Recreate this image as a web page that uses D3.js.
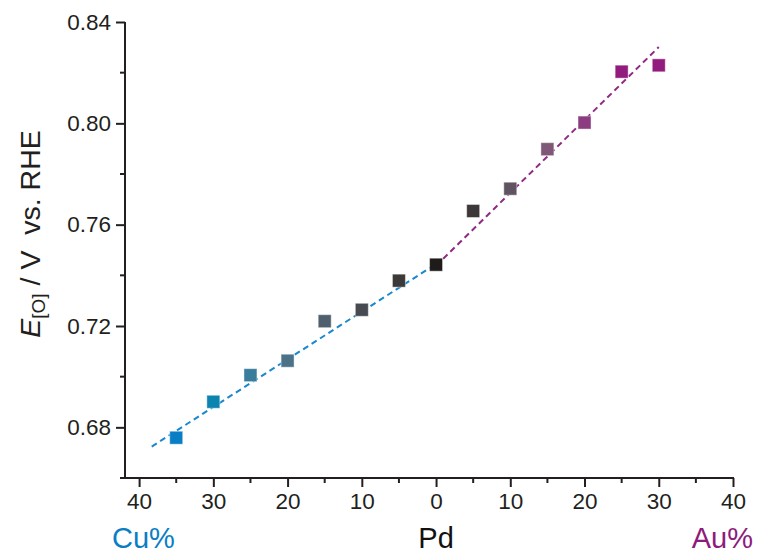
<!DOCTYPE html>
<html>
<head>
<meta charset="utf-8">
<script src="https://cdn.jsdelivr.net/npm/d3@7"></script>
<style>
  body { margin: 0; background: #fff; }
  text { font-family: "Liberation Sans", Arial, sans-serif; }
</style>
</head>
<body>
<div id="chart"></div>
<script>
// composition: negative = Cu%, positive = Au%
const compositions = [-35, -30, -25, -20, -15, -10, -5, 0, 5, 10, 15, 20, 25, 30];
const potentials = [0.6759, 0.6901, 0.7006, 0.7063, 0.7219, 0.7264, 0.7379, 0.7442,
                    0.7654, 0.7742, 0.7898, 0.8003, 0.8204, 0.8229];
const cuFit = [[-38.3, 0.6724], [0, 0.7445]];
const auFit = [[0, 0.7438], [30, 0.8301]];
const xTicks = [-40, -30, -20, -10, 0, 10, 20, 30, 40];
const yTicks = [0.68, 0.72, 0.76, 0.80, 0.84];

const pointColor = d3.scaleLinear()
    .domain([-35, -30, -25, -20, -15, -10, -5, 0, 5, 10, 15, 20, 25, 30])
    .range(["#0a7ec4", "#0c84b0", "#3a7c9c", "#4b7286", "#4f5f6e", "#474a51", "#3c3a39",
            "#1f1b1a", "#3b3837", "#615462", "#7f5877", "#8c3c80", "#911c7d", "#911c7d"]);

const width = 758, height = 554;
const margin = { top: 22, right: 25, bottom: 76, left: 125 };

const svg = d3.select("#chart")
    .append("svg")
    .attr("width", width)
    .attr("height", height);

const x = d3.scaleLinear()
    .domain([-41.9, 40])
    .range([margin.left, width - margin.right]);

const y = d3.scaleLinear()
    .domain([0.66, 0.84])
    .range([height - margin.bottom, margin.top]);

const axisColor = "#231f20";

// fit lines
const line = d3.line().x(d => x(d[0])).y(d => y(d[1]));
svg.append("path")
    .datum(cuFit)
    .attr("d", line)
    .attr("fill", "none")
    .attr("stroke", "#1a88cf")
    .attr("stroke-width", 2)
    .attr("stroke-dasharray", "6,4");
svg.append("path")
    .datum(auFit)
    .attr("d", line)
    .attr("fill", "none")
    .attr("stroke", "#8e2a82")
    .attr("stroke-width", 2)
    .attr("stroke-dasharray", "6,4");

// points
const sq = 13;
svg.selectAll("rect.pt")
    .data(compositions.map((c, i) => ({ c: c, v: potentials[i] })))
    .join("rect")
    .attr("class", "pt")
    .attr("x", d => x(d.c) - sq / 2)
    .attr("y", d => y(d.v) - sq / 2)
    .attr("width", sq)
    .attr("height", sq)
    .attr("fill", d => pointColor(d.c))
    .attr("stroke", "#ffffff")
    .attr("stroke-opacity", 0.45)
    .attr("stroke-width", 1);

// x axis
const xAxis = svg.append("g")
    .attr("transform", `translate(0, ${height - margin.bottom})`)
    .call(d3.axisBottom(x)
        .tickValues(xTicks)
        .tickSize(9)
        .tickPadding(6)
        .tickFormat(d => Math.abs(d)))
    .call(g => g.select(".domain").remove());
xAxis.append("line")
    .attr("x1", margin.left)
    .attr("x2", x(40) + 1)
    .attr("stroke", axisColor)
    .attr("stroke-width", 2);
xAxis.selectAll(".minor")
    .data(d3.range(-35, 40, 10))
    .join("line")
    .attr("x1", d => x(d))
    .attr("x2", d => x(d))
    .attr("y2", 5)
    .attr("stroke", axisColor)
    .attr("stroke-width", 2);

// y axis
const yAxis = svg.append("g")
    .attr("transform", `translate(${margin.left}, 0)`)
    .call(d3.axisLeft(y)
        .tickValues(yTicks)
        .tickSize(9)
        .tickPadding(5)
        .tickFormat(d3.format(".2f")))
    .call(g => g.select(".domain").remove());
yAxis.append("line")
    .attr("y1", y(0.84))
    .attr("y2", y(0.66) + 1)
    .attr("stroke", axisColor)
    .attr("stroke-width", 2);
yAxis.selectAll(".minor")
    .data([0.66, 0.70, 0.74, 0.78, 0.82])
    .join("line")
    .attr("y1", d => y(d))
    .attr("y2", d => y(d))
    .attr("x2", -5)
    .attr("stroke", axisColor)
    .attr("stroke-width", 2);

svg.selectAll(".tick line")
    .attr("stroke", axisColor)
    .attr("stroke-width", 2);
svg.selectAll(".tick text")
    .attr("fill", axisColor)
    .style("font-size", "22.5px");

// axis titles
const yTitle = svg.append("text")
    .attr("transform", `translate(40, 234) rotate(-90)`)
    .attr("text-anchor", "middle")
    .attr("fill", axisColor)
    .style("font-size", "28.5px");
yTitle.append("tspan").attr("font-style", "italic").text("E");
yTitle.append("tspan").attr("dy", 5).style("font-size", "19px").text("[O]");
yTitle.append("tspan").attr("dy", -5).text(" / V\u00a0 vs. RHE");

svg.append("text")
    .attr("x", 112)
    .attr("y", 548)
    .attr("fill", "#0a7ec4")
    .style("font-size", "29px")
    .text("Cu%");
svg.append("text")
    .attr("x", x(0))
    .attr("y", 548)
    .attr("text-anchor", "middle")
    .attr("fill", "#111")
    .style("font-size", "29px")
    .text("Pd");
svg.append("text")
    .attr("x", 753)
    .attr("y", 548)
    .attr("text-anchor", "end")
    .attr("fill", "#8e1b7c")
    .style("font-size", "29px")
    .text("Au%");
</script>
</body>
</html>
